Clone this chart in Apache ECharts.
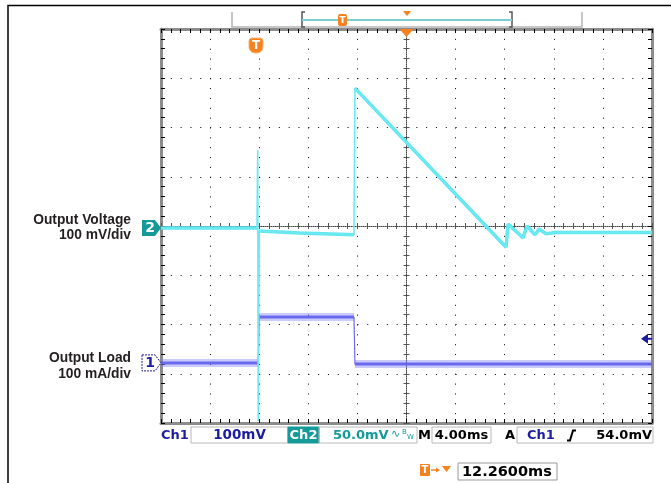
<!DOCTYPE html>
<html><head><meta charset="utf-8">
<script src="https://cdn.jsdelivr.net/npm/echarts@6/dist/echarts.min.js"></script>
<style>html,body{margin:0;padding:0;background:#fff}#c{width:671px;height:483px}</style>
</head><body><div id="c"></div>
<script>
// Time in ms from the left edge of the screen (4 ms/div, 10 div); level in divisions from centre (8 div)
const ch2Time = [0, 7.82, 7.88, 7.92, 8.0, 11.32, 15.72, 15.8, 28.11, 28.27, 29.49, 29.82, 30.47, 30.8, 31.37, 32.1, 40];
const ch2Div  = [-0.04, -0.04, 1.54, -3.96, -0.10, -0.14, -0.18, 2.80, -0.43, 0.04, -0.24, 0.0, -0.18, -0.06, -0.16, -0.13, -0.13];
const ch1Time = [0, 7.92, 8.0, 15.72, 15.8, 40];
const ch1Div  = [-2.78, -2.78, -1.85, -1.85, -2.80, -2.80];
const ch2Offset = -0.04;
const ch1Offset = -2.78;
const trigLevelDiv = -2.29;
const triggerTime = 20 - 12.26;
const statusTexts = {ch1: 'Ch1', ch1Scale: '100mV', ch2: 'Ch2', ch2Scale: '50.0mV', timebase: '4.00ms', trigSrc: 'Ch1', trigLevel: '54.0mV', trigPos: '12.2600ms'};
const labels = ['Output Voltage', '100 mV/div', 'Output Load', '100 mA/div'];

const chart = echarts.init(document.getElementById('c'));
const ORANGE = '#f5821f', NAVY = '#1c1ca0', TEAL = '#159a9a';
const hidden = {axisLabel:{show:false}, splitLine:{show:false}, axisTick:{show:false}, axisLine:{show:false}};
function xA(extra){ return Object.assign({type:'value', min:0, max:40}, JSON.parse(JSON.stringify(hidden)), extra); }
function yA(extra){ return Object.assign({type:'value', min:-4, max:4}, JSON.parse(JSON.stringify(hidden)), extra); }
const edgeLine = {show:true, onZero:false, lineStyle:{color:'#8c8c8c', width:3}};
const edgeTick = {show:true, inside:true, length:4, lineStyle:{color:'#000', width:1}};
const cLine = {show:true, onZero:false, lineStyle:{color:'#444', width:1, type:[1,1]}};
const cTickIn = {show:true, inside:true, length:3, lineStyle:{color:'#555', width:1}};
const cTickOut = {show:true, inside:false, length:3, lineStyle:{color:'#555', width:1}};

// full trace, and the same trace with its near-vertical jumps left out (drawn thin by the full trace)
function full(ts, vs){ return ts.map((t,i)=>[t, vs[i]]); }
function flatOnly(ts, vs){
  const out = [];
  for (let i = 0; i < ts.length; i++) {
    out.push([ts[i], vs[i]]);
    if (i < ts.length - 1 && ts[i+1] - ts[i] < 0.15) out.push('-');
  }
  return out;
}

const option = {
  animation:false,
  backgroundColor:'#fff',
  grid:{left:161, top:29, width:491, height:394, containLabel:false},
  xAxis:[
    xA({interval:4, splitLine:{show:true, lineStyle:{color:'#000', width:1, type:[1, 8.85]}}}),
    xA({position:'bottom', interval:0.8, axisLine:edgeLine, axisTick:edgeTick}),
    xA({position:'top', interval:0.8, axisLine:edgeLine, axisTick:edgeTick}),
    xA({position:'bottom', offset:-197, interval:0.8, axisLine:cLine, axisTick:cTickIn}),
    xA({position:'bottom', offset:-197, interval:0.8, axisLine:{show:false}, axisTick:cTickOut})
  ],
  yAxis:[
    yA({interval:1, splitLine:{show:true, lineStyle:{color:'#000', width:1, type:[1, 8.82]}}}),
    yA({position:'left', interval:0.2, axisLine:edgeLine, axisTick:edgeTick}),
    yA({position:'right', interval:0.2, axisLine:edgeLine, axisTick:edgeTick}),
    yA({position:'left', offset:-245.5, interval:0.2, axisLine:cLine, axisTick:cTickIn}),
    yA({position:'left', offset:-245.5, interval:0.2, axisLine:{show:false}, axisTick:cTickOut})
  ],
  series:[
    {type:'line', xAxisIndex:0, yAxisIndex:0, showSymbol:false, silent:true, connectNulls:false,
     data: flatOnly(ch1Time, ch1Div), lineStyle:{color:'rgba(125,125,245,0.4)', width:8}},
    {type:'line', xAxisIndex:0, yAxisIndex:0, showSymbol:false, silent:true, connectNulls:false,
     data: flatOnly(ch1Time, ch1Div), lineStyle:{color:'rgba(90,90,235,0.85)', width:3}},
    {type:'line', xAxisIndex:0, yAxisIndex:0, showSymbol:false, silent:true,
     data: full(ch1Time, ch1Div), lineStyle:{color:'#6a6aee', width:1.2}},
    {type:'line', xAxisIndex:0, yAxisIndex:0, showSymbol:false, silent:true, connectNulls:false,
     data: flatOnly(ch2Time, ch2Div), lineStyle:{color:'#5ee6ef', width:3.5}},
    {type:'line', xAxisIndex:0, yAxisIndex:0, showSymbol:false, silent:true,
     data: full(ch2Time, ch2Div), lineStyle:{color:'#6ce9f1', width:1.6}}
  ]
};
chart.setOption(option);

function px(t, v){ return chart.convertToPixel({xAxisIndex:0, yAxisIndex:0}, [t, v]); }
const FS = 'bold 13px "DejaVu Sans"';
const g = [];
function txt(x, y, s, fill, font, align){ g.push({type:'text', x:x, y:y, style:{text:s, fill:fill, font:font||FS, align:align||'left', verticalAlign:'middle'}, z:20}); }
function box(x, y, w, h, stroke, fill){ g.push({type:'rect', shape:{x:x, y:y, width:w, height:h}, style:{stroke:stroke||'#b8b8b8', fill:fill||null, lineWidth:1}, z:19}); }

// outer frame
g.push({type:'polyline', shape:{points:[[8,483],[8,5.5],[671,5.5]]}, style:{stroke:'#000', lineWidth:1.5, fill:null}});
// record bar
g.push({type:'polyline', shape:{points:[[232,12],[232,27],[582,27],[582,12]]}, style:{stroke:'#b4b4b4', lineWidth:1.5, fill:null}});
g.push({type:'polyline', shape:{points:[[305,12],[302,12],[302,27],[305,27]]}, style:{stroke:'#555', lineWidth:1.5, fill:null}});
g.push({type:'polyline', shape:{points:[[509,12],[512,12],[512,27],[509,27]]}, style:{stroke:'#555', lineWidth:1.5, fill:null}});
g.push({type:'line', shape:{x1:302, y1:20, x2:512, y2:20}, style:{stroke:'#7ccfd2', lineWidth:2}});
g.push({type:'rect', shape:{x:338, y:14, width:9, height:12, r:2}, style:{fill:ORANGE}, z:20});
txt(342.5, 20.5, 'T', '#fff', 'bold 9px "DejaVu Sans"', 'center');
g.push({type:'polygon', shape:{points:[[403,11],[411,11],[407,16]]}, style:{fill:ORANGE}});

// centre trigger-position triangle and trigger icon
const cTop = px(20, 4);
g.push({type:'polygon', shape:{points:[[cTop[0]-7,cTop[1]],[cTop[0]+7,cTop[1]],[cTop[0],cTop[1]+8]]}, style:{fill:ORANGE}, z:20});
const tp = px(triggerTime, 4);
g.push({type:'rect', shape:{x:tp[0]-7, y:38, width:14, height:15, r:[3,3,6,6]}, style:{fill:ORANGE, stroke:'#f9b070', lineWidth:1}, z:20});
txt(tp[0], 45.5, 'T', '#fff', 'bold 12px "DejaVu Sans"', 'center');

// channel markers
const m2 = px(0, ch2Offset);
g.push({type:'polygon', shape:{points:[[m2[0]-19,m2[1]-8],[m2[0]-6,m2[1]-8],[m2[0],m2[1]],[m2[0]-6,m2[1]+8],[m2[0]-19,m2[1]+8]]}, style:{fill:TEAL}, z:20});
txt(m2[0]-11, m2[1]+0.5, '2', '#fff', 'bold 14px "DejaVu Sans"', 'center');
const m1 = px(0, ch1Offset);
g.push({type:'polygon', shape:{points:[[m1[0]-19,m1[1]-8],[m1[0]-6,m1[1]-8],[m1[0],m1[1]],[m1[0]-6,m1[1]+8],[m1[0]-19,m1[1]+8]]}, style:{fill:'#fff', stroke:NAVY, lineWidth:1, lineDash:[2,1]}, z:20});
txt(m1[0]-11, m1[1]+0.5, '1', NAVY, 'bold 14px "DejaVu Sans"', 'center');

// trigger level arrow
const tl = px(40, trigLevelDiv);
g.push({type:'polygon', shape:{points:[[tl[0]-11,tl[1]],[tl[0]-4,tl[1]-5],[tl[0]-4,tl[1]+5]]}, style:{fill:NAVY}, z:20});
g.push({type:'line', shape:{x1:tl[0]-5, y1:tl[1], x2:tl[0], y2:tl[1]}, style:{stroke:NAVY, lineWidth:2}, z:20});

// left labels
const LF = 'bold 13.8px "Liberation Sans"';
txt(131, 220, labels[0], '#231f20', LF, 'right');
txt(131, 235, labels[1], '#231f20', LF, 'right');
txt(131, 358, labels[2], '#231f20', LF, 'right');
txt(131, 374, labels[3], '#231f20', LF, 'right');

// status bar
const SY = 435.5;
txt(161, SY, statusTexts.ch1, NAVY);
box(191, 427, 97, 16);
txt(239.5, SY, statusTexts.ch1Scale, NAVY, 'bold 13.5px "DejaVu Sans"', 'center');
box(288, 427, 31, 16, TEAL, TEAL);
txt(303.5, SY, statusTexts.ch2, '#fff', FS, 'center');
box(319, 427, 98, 16);
txt(333, SY, statusTexts.ch2Scale, TEAL);
txt(391, SY-1, '∿', TEAL, '11px "DejaVu Sans"');
txt(402, SY-3, 'B', TEAL, '7px "DejaVu Sans"');
txt(407, SY+2, 'W', TEAL, '7px "DejaVu Sans"');
txt(418, SY, 'M', '#000');
box(432, 427, 59, 16);
txt(461.5, SY, statusTexts.timebase, '#000', FS, 'center');
txt(505, SY, 'A', '#000');
box(517, 427, 136, 16);
txt(527, SY, statusTexts.trigSrc, NAVY);
g.push({type:'polyline', shape:{points:[[567,440.5],[570,440.5],[573,430.5],[576,430.5]]}, style:{stroke:'#000', lineWidth:2, fill:null}, z:20});
txt(652, SY, statusTexts.trigLevel, '#000', FS, 'right');
// second row
g.push({type:'rect', shape:{x:420, y:464, width:10, height:12, r:1}, style:{fill:ORANGE}, z:20});
txt(425, 470.5, 'T', '#fff', 'bold 10px "DejaVu Sans"', 'center');
g.push({type:'line', shape:{x1:431, y1:470, x2:437, y2:470}, style:{stroke:ORANGE, lineWidth:1.5}, z:20});
g.push({type:'polygon', shape:{points:[[436,467.5],[440,470],[436,472.5]]}, style:{fill:ORANGE}, z:20});
g.push({type:'polygon', shape:{points:[[442,466],[451,466],[446.5,472]]}, style:{fill:ORANGE}, z:20});
box(458, 463, 99, 17, '#999');
txt(462, 472, statusTexts.trigPos, '#000', 'bold 14.5px "DejaVu Sans"');

chart.setOption({graphic:{elements:g}});
</script></body></html>
